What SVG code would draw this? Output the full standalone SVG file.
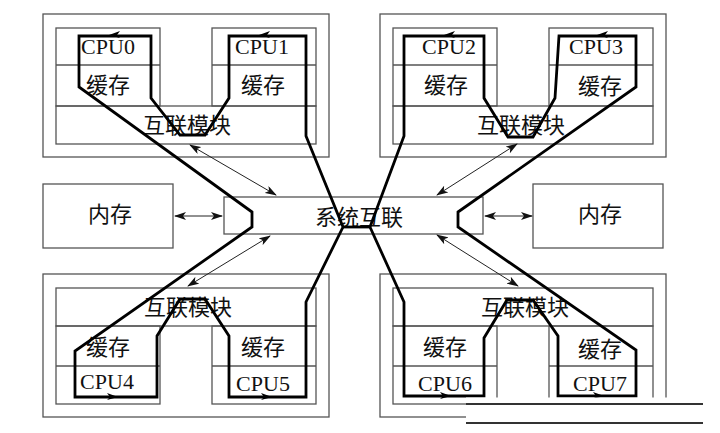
<svg xmlns="http://www.w3.org/2000/svg" xmlns:xlink="http://www.w3.org/1999/xlink" width="720" height="433" viewBox="0 0 720 433">
<style>
.box{fill:none;stroke:#555;stroke-width:1.3}
.ln{stroke:#555;stroke-width:1.3}
.t{font-family:"Liberation Serif","Noto Sans CJK SC",serif;font-size:22px;fill:#111;text-anchor:middle}
.loop{fill:none;stroke:#000;stroke-width:2.8;stroke-linejoin:miter}
.thin{fill:none;stroke:#222;stroke-width:1;marker-start:url(#ar);marker-end:url(#ar)}
.ah{fill:#000}
</style>
<defs>
<marker id="ar" markerUnits="userSpaceOnUse" markerWidth="12" markerHeight="8" refX="11" refY="4" orient="auto-start-reverse">
<path d="M0,0 L12,4 L0,8 L3,4 Z" fill="#111"/>
</marker>
<path id="al" d="M0,0 L11,-4 L8,0 L11,3 Z"/>
<path id="ar2" d="M0,0 L-11,-4 L-8,0 L-11,3 Z"/>
</defs>
<rect width="720" height="433" fill="#fff"/>

<g id="cluster-top-left">
<rect class="box" x="43" y="14" width="286" height="143"/>
<rect class="box" x="56" y="28" width="104" height="78"/>
<rect class="box" x="212" y="28" width="104" height="78"/>
<rect class="box" x="56" y="106" width="260" height="38"/>
<line class="ln" x1="56" y1="65" x2="160" y2="65"/>
<line class="ln" x1="212" y1="65" x2="316" y2="65"/>
<text class="t" x="108" y="54">CPU0</text>
<text class="t" x="262" y="54">CPU1</text>
<text class="t" x="108" y="93">缓存</text>
<text class="t" x="263" y="93">缓存</text>
<text class="t" x="187" y="133">互联模块</text>
</g>

<g id="cluster-top-right">
<rect class="box" x="380" y="14" width="286" height="143"/>
<rect class="box" x="393" y="28" width="104" height="78"/>
<rect class="box" x="549" y="28" width="104" height="78"/>
<rect class="box" x="393" y="106" width="260" height="38"/>
<line class="ln" x1="393" y1="65" x2="497" y2="65"/>
<line class="ln" x1="549" y1="65" x2="653" y2="65"/>
<text class="t" x="449" y="54">CPU2</text>
<text class="t" x="596" y="54">CPU3</text>
<text class="t" x="446" y="93">缓存</text>
<text class="t" x="600" y="94">缓存</text>
<text class="t" x="521" y="133">互联模块</text>
</g>

<g id="cluster-bottom-left">
<rect class="box" x="43" y="274" width="286" height="143"/>
<rect class="box" x="56" y="288" width="260" height="38"/>
<rect class="box" x="56" y="326" width="104" height="78"/>
<rect class="box" x="212" y="326" width="104" height="78"/>
<line class="ln" x1="56" y1="366" x2="160" y2="366"/>
<line class="ln" x1="212" y1="366" x2="316" y2="366"/>
<text class="t" x="188" y="315">互联模块</text>
<text class="t" x="108" y="355">缓存</text>
<text class="t" x="263" y="355">缓存</text>
<text class="t" x="107" y="389">CPU4</text>
<text class="t" x="263" y="391">CPU5</text>
</g>

<g id="cluster-bottom-right">
<rect class="box" x="380" y="274" width="286" height="143"/>
<rect class="box" x="393" y="288" width="260" height="38"/>
<rect class="box" x="393" y="326" width="104" height="78"/>
<rect class="box" x="549" y="326" width="104" height="78"/>
<line class="ln" x1="393" y1="366" x2="497" y2="366"/>
<line class="ln" x1="549" y1="366" x2="653" y2="366"/>
<text class="t" x="525" y="315">互联模块</text>
<text class="t" x="445" y="355">缓存</text>
<text class="t" x="600" y="357">缓存</text>
<text class="t" x="445" y="391">CPU6</text>
<text class="t" x="600" y="391">CPU7</text>
</g>

<g id="system-interconnect">
<rect class="box" x="224" y="197" width="259" height="37"/>
<text class="t" x="359" y="225">系统互联</text>
</g>

<g id="memory-left">
<rect class="box" x="43" y="184" width="130" height="64"/>
<text class="t" x="110" y="222">内存</text>
</g>

<g id="memory-right">
<rect class="box" x="533" y="184" width="130" height="64"/>
<text class="t" x="600" y="222">内存</text>
</g>

<g id="connectors">
<path class="loop" d="M252,212 L79,87 L79,36 L151,36 L151,98 L180,135 L205,135 L229,98 L229,36 L306,36 L306,136 L343,227 L306,302 L306,397 L229,397 L229,336 L205,299 L180,299 L157,336 L157,397 L75,397 L75,351 L252,227 Z"/>
<path class="loop" d="M458,212 L636,87 L636,36 L559,36 L555,98 L533,137 L508,137 L484,98 L484,36 L404,36 L404,136 L370,227 L404,302 L404,396 L484,396 L484,338 L507,300 L533,300 L558,336 L558,396 L636,396 L636,350 L458,227 Z"/>
<line class="loop" x1="343" y1="227" x2="370" y2="227"/>
<use class="ah" href="#al" x="109" y="35"/>
<use class="ah" href="#al" x="259" y="35"/>
<use class="ah" href="#al" x="444" y="35"/>
<use class="ah" href="#al" x="597" y="35"/>
<use class="ah" href="#ar2" x="118" y="397"/>
<use class="ah" href="#ar2" x="272" y="397"/>
<use class="ah" href="#ar2" x="451" y="396"/>
<use class="ah" href="#ar2" x="604" y="396"/>
<line class="thin" x1="190" y1="145" x2="276" y2="195"/>
<line class="thin" x1="188" y1="286" x2="270" y2="236"/>
<line class="thin" x1="517" y1="144" x2="437" y2="195"/>
<line class="thin" x1="518" y1="286" x2="437" y2="235"/>
<line class="thin" x1="175" y1="216" x2="222" y2="216"/>
<line class="thin" x1="485" y1="216" x2="532" y2="216"/>
</g>

<rect x="466" y="397.5" width="254" height="36" fill="#fff"/>
<line x1="466" y1="404" x2="703" y2="404" stroke="#333" stroke-width="2"/>
<line x1="466" y1="423" x2="703" y2="423" stroke="#333" stroke-width="2"/>
</svg>
